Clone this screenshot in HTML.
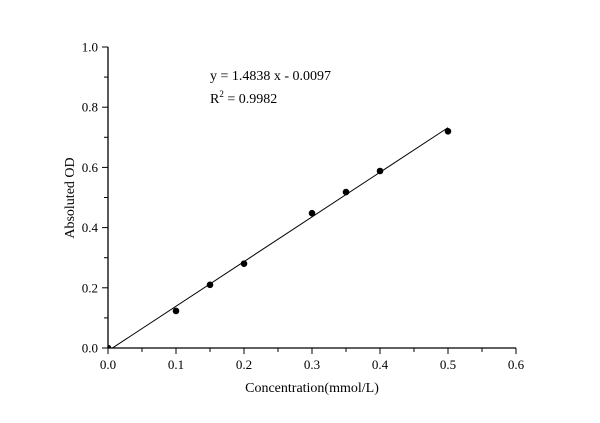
<!DOCTYPE html>
<html><head><meta charset="utf-8"><style>
body{margin:0;background:#fff;}
svg, svg text{font-family:"Liberation Serif","Times New Roman","DejaVu Serif",serif;}
</style></head><body>
<svg id="c" width="600" height="418" font-family="Liberation Serif, Times New Roman, DejaVu Serif, serif" xmlns="http://www.w3.org/2000/svg">
<defs><clipPath id="clip"><rect x="108" y="47" width="408" height="301"/></clipPath></defs>
<g id="axes"></g>
<g id="marks" clip-path="url(#clip)"></g>
<text x="210" y="80" font-size="14">y = 1.4838 x - 0.0097</text>
<text x="210" y="103" font-size="14">R<tspan dy="-6" font-size="9">2</tspan><tspan dy="6"> = 0.9982</tspan></text>
<text x="312" y="392" font-size="14" text-anchor="middle">Concentration(mmol/L)</text>
<text transform="translate(74,198) rotate(-90)" font-size="14" text-anchor="middle">Absoluted OD</text>
</svg>
<script>
const xVals=[0,0.1,0.15,0.2,0.3,0.35,0.4,0.5];
const yVals=[0,0.123,0.21,0.28,0.448,0.518,0.588,0.72];
const slope=1.4838, intercept=-0.0097;
const xTicks=["0.0","0.1","0.2","0.3","0.4","0.5","0.6"];
const yTicks=["0.0","0.2","0.4","0.6","0.8","1.0"];
const X=v=>108+v/0.6*408, Y=v=>348-v*301;
const NS="http://www.w3.org/2000/svg";
const ax=document.getElementById('axes'), mk=document.getElementById('marks');
function el(t,a,p){const e=document.createElementNS(NS,t);for(const k in a)e.setAttribute(k,a[k]);p.appendChild(e);return e;}
const xa=el('line',{x1:108,y1:348,x2:516,y2:348,stroke:'#000','stroke-width':1.3},ax);


const ya=el('line',{x1:108,y1:47,x2:108,y2:348,stroke:'#000','stroke-width':1.3},ax);


xTicks.forEach((t,i)=>{const v=parseFloat(t);
 el('line',{x1:X(v),y1:348,x2:X(v),y2:354,stroke:'#000'},ax);
 if(i<xTicks.length-1)el('line',{x1:X(v+0.05),y1:348,x2:X(v+0.05),y2:352,stroke:'#000'},ax);
 const tx=el('text',{x:X(v),y:369,'font-size':13,'text-anchor':'middle'},ax);tx.textContent=t;
 
 
});
yTicks.forEach((t,i)=>{const v=parseFloat(t);
 el('line',{x1:102,y1:Y(v),x2:108,y2:Y(v),stroke:'#000'},ax);
 if(i<yTicks.length-1)el('line',{x1:104,y1:Y(v+0.1),x2:108,y2:Y(v+0.1),stroke:'#000'},ax);
 const tx=el('text',{x:98,y:Y(v)+4.5,'font-size':13,'text-anchor':'end'},ax);tx.textContent=t;
 
 
});
const x0=xVals[0], x1=xVals[xVals.length-1];
const fit=el('line',{x1:X(x0),y1:Y(slope*x0+intercept),x2:X(x1),y2:Y(slope*x1+intercept),stroke:'#000','stroke-width':1},mk);


xVals.forEach((x,i)=>{
 const c=el('circle',{cx:X(x),cy:Y(yVals[i]),r:3.3,fill:'#000'},mk);
 
 
});
</script>
</body></html>
